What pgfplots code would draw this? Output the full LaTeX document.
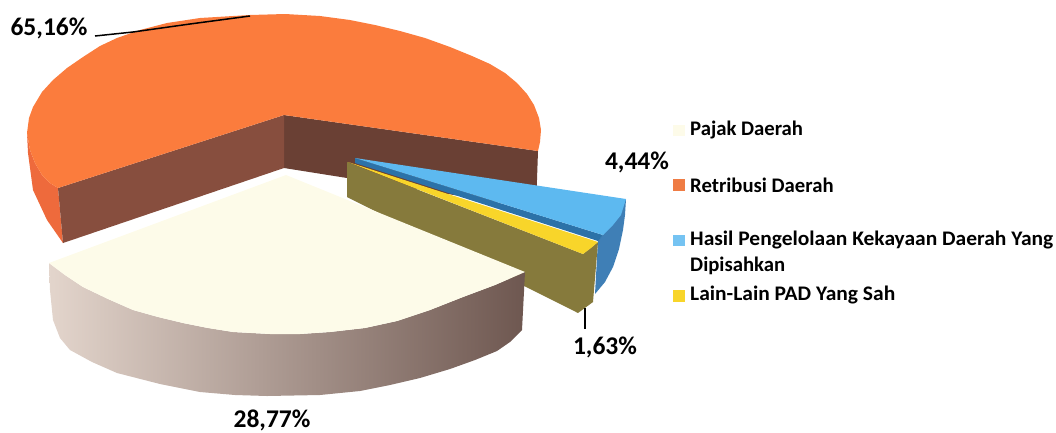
\documentclass[border=0pt]{standalone}
\usepackage{pgfplots}
\pgfplotsset{compat=1.18}
\usepackage{fontspec}
\setmainfont{Carlito}
\definecolor{orTop}{HTML}{FB7C3D}
\definecolor{orSide}{HTML}{EE6A3C}
\definecolor{wallA}{HTML}{874E3E}
\definecolor{wallB}{HTML}{6A4034}
\definecolor{creamTop}{HTML}{FDFBE9}
\definecolor{blTop}{HTML}{5DB9F0}
\definecolor{blDark}{HTML}{2C72A8}
\definecolor{blSide}{HTML}{3F7FB6}
\definecolor{yel}{HTML}{F8D52A}
\definecolor{oliv}{HTML}{867A3C}
\definecolor{crA}{HTML}{E3D5CC}
\definecolor{crB}{HTML}{AC988E}
\definecolor{crC}{HTML}{6E5750}
\newcommand{\lab}[1]{\fontsize{20.7}{24}\selectfont\bfseries #1}
\newcommand{\pct}[1]{\fontsize{25.5}{28}\selectfont\bfseries #1}
\begin{document}
\begin{tikzpicture}
\useasboundingbox (0,0) rectangle (1056pt,432pt);
\begin{axis}[
  anchor=south west,at={(0,0)},
  x=1pt,y=1pt,xmin=0,xmax=1056,ymin=0,ymax=432,y dir=reverse,
  hide axis,clip=false,scale only axis,no markers,
  every axis plot/.append style={draw=none,line width=0pt,solid},
]
% orange slice: outer side, cut walls, top
\addplot[fill=orSide] coordinates {(58,188)(50,183)(42,175)(35,163)(30,150)(27,133)(28,153)(33,190)(47,220)(63,243)} -- cycle;
\addplot[fill=wallB] coordinates {(284,115)(538,151)(536,208)(284,168)} -- cycle;
\addplot[fill=wallA] coordinates {(58,188)(284,115)(284,168)(63,243)} -- cycle;
\addplot[fill=orTop] coordinates {(284,115)(58,188)(50,183)(42,175)(35,163)(30,150)(27,133)(29,118)(33,107)(42,92)(53,80)(67,68)(83,57)(100,46)(117,38)(140,30)(167,23)(200,18)(250,15)(285,14)(320,16)(350,20)(375,25)(400,31)(425,38)(450,47)(472,56)(490,64)(505,73)(517,83)(527,94)(534,105)(539,118)(541,130)(540,142)(538,151)} -- cycle;
% blue slice
\addplot[fill=blSide] coordinates {(626,199)(625,215)(623,230)(619,249)(613,267)(605,282)(595,294)(598,240)(603,235)} -- cycle;
\addplot[fill=blDark] coordinates {(355,158)(603,235)(598,241)(355,163)} -- cycle;
\addplot[fill=blTop] coordinates {(355,158)(626,199)(621,215)(613,225)(603,235)} -- cycle;
% yellow slice
\addplot[fill=oliv] coordinates {(347,162)(583,254)(598,242)(593,302)(578,313)(347,197)} -- cycle;
\addplot[fill=yel] coordinates {(348,162)(598,242)(591,248)(583,254)} -- cycle;
% cream slice
\addplot[left color=crA,middle color=crB,right color=crC] coordinates {(49,263)(65,275)(83,287)(108,299)(133,310)(158,317)(183,323)(208,328)(233,332)(270,334)(300,334)(330,332)(365,328)(397,321)(430,310)(463,297)(495,285)(525,272)(522,330)(510,342)(497,351)(475,360)(450,369)(420,378)(390,385)(360,391)(320,395)(267,396)(235,395)(200,392)(160,384)(117,373)(92,362)(70,350)(60,338)(53,320)(50,290)} -- cycle;
\addplot[fill=creamTop] coordinates {(286,175)(49,263)(65,275)(83,287)(108,299)(133,310)(158,317)(183,323)(208,328)(233,332)(270,334)(300,334)(330,332)(365,328)(397,321)(430,310)(463,297)(495,285)(525,272)} -- cycle;
% leader lines
\addplot[draw=black,line width=1.5pt] coordinates {(95,36)(133,32)(190,24)(250,16)};
\addplot[draw=black,line width=1.3pt] coordinates {(585,308)(585,329)};
% legend keys
\addplot[fill=creamTop] coordinates {(673,125)(685,125)(685,136)(673,136)} -- cycle;
\addplot[fill=orTop!90!gray] coordinates {(673,179)(685,179)(685,191)(673,191)} -- cycle;
\addplot[fill=blTop!85!white] coordinates {(673,235)(685,235)(685,246)(673,246)} -- cycle;
\addplot[fill=yel] coordinates {(673,290)(685,290)(685,302)(673,302)} -- cycle;
% texts
\node[anchor=west,inner sep=0pt] at (axis cs:690,130) {\lab{Pajak Daerah}};
\node[anchor=west,inner sep=0pt] at (axis cs:690,185) {\lab{Retribusi Daerah}};
\node[anchor=west,inner sep=0pt] at (axis cs:690,240) {\resizebox{363pt}{\height}{\lab{Hasil Pengelolaan Kekayaan Daerah Yang}}};
\node[anchor=west,inner sep=0pt] at (axis cs:690,266) {\lab{Dipisahkan}};
\node[anchor=west,inner sep=0pt] at (axis cs:690,295) {\resizebox{205pt}{\height}{\lab{Lain-Lain PAD Yang Sah}}};
\node[inner sep=0pt] at (axis cs:49,28) {\pct{65,16\%}};
\node[inner sep=0pt] at (axis cs:637,162) {\pct{4,44\%}};
\node[inner sep=0pt] at (axis cs:605,347) {\pct{1,63\%}};
\node[inner sep=0pt] at (axis cs:272,420) {\pct{28,77\%}};
\end{axis}
\end{tikzpicture}
\end{document}
